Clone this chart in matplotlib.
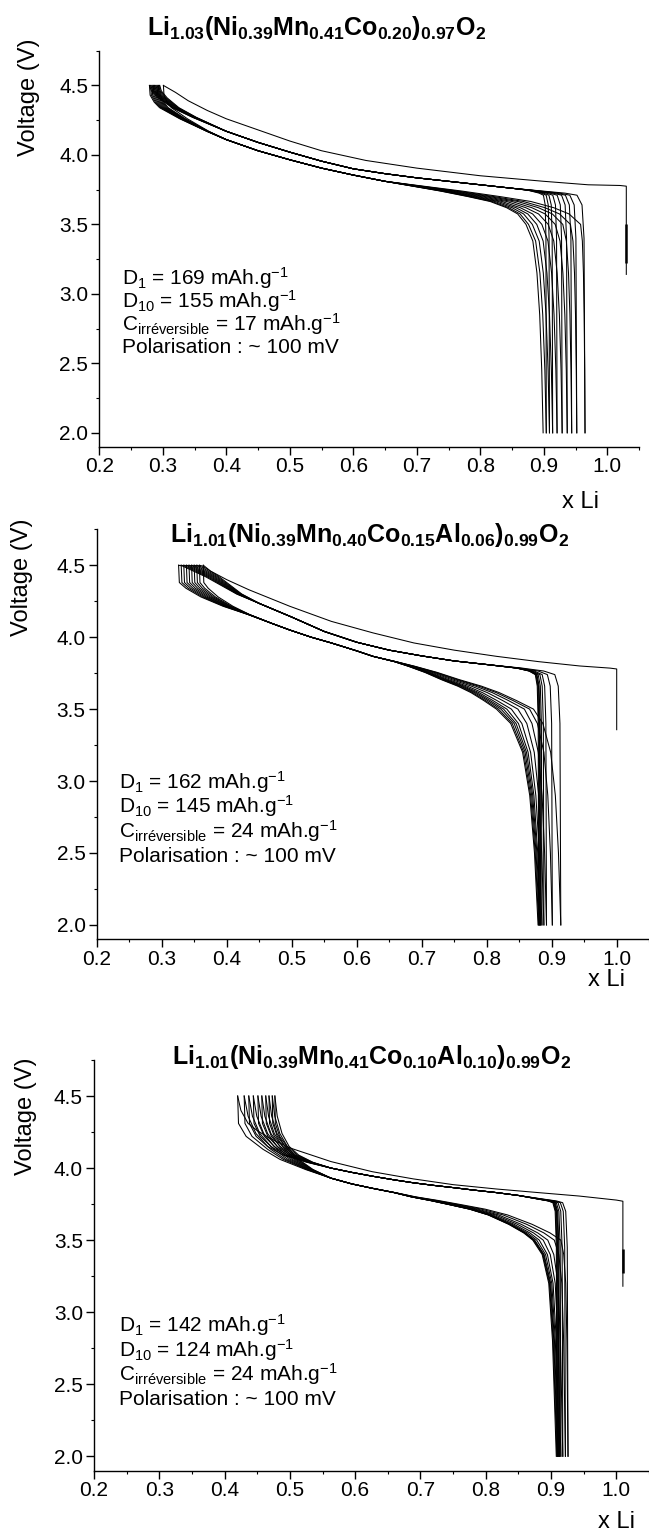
import numpy as np
import matplotlib.pyplot as plt
from matplotlib.ticker import MultipleLocator

plt.rcParams['font.family'] = ['Liberation Sans', 'DejaVu Sans']
plt.rcParams['mathtext.fontset'] = 'custom'
plt.rcParams['mathtext.rm'] = 'Liberation Sans'
plt.rcParams['mathtext.it'] = 'Liberation Sans:italic'
plt.rcParams['mathtext.bf'] = 'Liberation Sans:bold'

W, H = 649, 1533
LW = 0.75

# ---------------------------------------------------------------- panel 1 data
p1_title = r'$\mathbf{Li_{1.03}(Ni_{0.39}Mn_{0.41}Co_{0.20})_{0.97}O_{2}}$'
p1_first_x = [1.03, 1.03, 1.02, 0.97, 0.90, 0.80, 0.70, 0.62, 0.55, 0.50, 0.45, 0.40, 0.37, 0.34, 0.32, 0.301]
p1_first_v = [3.14, 3.775, 3.78, 3.785, 3.81, 3.85, 3.905, 3.96, 4.03, 4.10, 4.18, 4.26, 4.32, 4.39, 4.45, 4.50]
p1_rest_v = [3.50, 3.22]
p1_chg_x = [0.930, 0.929, 0.927, 0.922, 0.91, 0.88, 0.85, 0.80, 0.75, 0.70, 0.65, 0.60, 0.55, 0.50,
            0.45, 0.40, 0.35, 0.32, 0.30, 0.29, 0.287]
p1_chg_v = [2.00, 3.40, 3.64, 3.71, 3.725, 3.745, 3.76, 3.785, 3.81, 3.835, 3.865, 3.90, 3.955, 4.02,
            4.09, 4.17, 4.27, 4.34, 4.41, 4.46, 4.50]
p1_dis_x = [0.285, 0.286, 0.292, 0.30, 0.33, 0.37, 0.40, 0.45, 0.50, 0.55, 0.60, 0.65, 0.70, 0.75,
            0.80, 0.84, 0.87, 0.89, 0.905, 0.915, 0.921, 0.925, 0.928, 0.93]
p1_dis_v = [4.50, 4.43, 4.38, 4.34, 4.26, 4.17, 4.11, 4.03, 3.965, 3.905, 3.855, 3.81, 3.775, 3.74,
            3.70, 3.665, 3.62, 3.575, 3.50, 3.38, 3.15, 2.85, 2.45, 2.00]
p1_dis_knee = 0.905
p1_tops = [0.301, 0.279, 0.281, 0.283, 0.285, 0.287, 0.289, 0.291, 0.293, 0.295]
p1_knees = [0.958, 0.942, 0.930, 0.918, 0.907, 0.897, 0.889, 0.882, 0.876, 0.872]
p1_ends = [0.965, 0.952, 0.944, 0.937, 0.929, 0.921, 0.914, 0.909, 0.904, 0.899]
p1_notes = ['D$_1$ = 169 mAh.g$^{-1}$', 'D$_{10}$ = 155 mAh.g$^{-1}$',
            'C$_{\\rm irréversible}$ = 17 mAh.g$^{-1}$', 'Polarisation : ~ 100 mV']

# ---------------------------------------------------------------- panel 2 data
p2_title = r'$\mathbf{Li_{1.01}(Ni_{0.39}Mn_{0.40}Co_{0.15}Al_{0.06})_{0.99}O_{2}}$'
p2_first_x = [1.0, 1.0, 0.99, 0.943, 0.88, 0.815, 0.75, 0.688, 0.625, 0.561, 0.497, 0.434, 0.40, 0.375, 0.364]
p2_first_v = [3.357, 3.779, 3.785, 3.80, 3.83, 3.867, 3.91, 3.96, 4.03, 4.11, 4.215, 4.33, 4.40, 4.46, 4.50]
p2_rest_v = []
p2_chg_x = [0.895, 0.894, 0.892, 0.888, 0.875, 0.85, 0.80, 0.75, 0.70, 0.65, 0.60, 0.55, 0.50,
            0.45, 0.42, 0.40, 0.38, 0.36, 0.35, 0.345]
p2_chg_v = [2.00, 3.40, 3.66, 3.74, 3.765, 3.785, 3.81, 3.835, 3.87, 3.91, 3.965, 4.04, 4.14,
            4.235, 4.30, 4.36, 4.42, 4.47, 4.495, 4.50]
p2_dis_x = [0.34, 0.341, 0.35, 0.37, 0.40, 0.434, 0.47, 0.497, 0.53, 0.561, 0.60, 0.625, 0.66, 0.688,
            0.72, 0.752, 0.784, 0.81, 0.835, 0.86, 0.872, 0.882, 0.888, 0.892, 0.895]
p2_dis_v = [4.50, 4.38, 4.34, 4.28, 4.215, 4.157, 4.095, 4.05, 4.00, 3.96, 3.905, 3.867, 3.83, 3.797,
            3.755, 3.705, 3.66, 3.615, 3.56, 3.50, 3.40, 3.20, 2.90, 2.50, 2.00]
p2_dis_knee = 0.86
p2_tops = [0.364, 0.326, 0.330, 0.334, 0.338, 0.342, 0.346, 0.350, 0.354, 0.358]
p2_knees = [0.872, 0.866, 0.858, 0.848, 0.838, 0.831, 0.826, 0.822, 0.818, 0.815]
p2_ends = [0.914, 0.901, 0.892, 0.888, 0.885, 0.883, 0.882, 0.881, 0.880, 0.879]
p2_notes = ['D$_1$ = 162 mAh.g$^{-1}$', 'D$_{10}$ = 145 mAh.g$^{-1}$',
            'C$_{\\rm irréversible}$ = 24 mAh.g$^{-1}$', 'Polarisation : ~ 100 mV']

# ---------------------------------------------------------------- panel 3 data
p3_title = r'$\mathbf{Li_{1.01}(Ni_{0.39}Mn_{0.41}Co_{0.10}Al_{0.10})_{0.99}O_{2}}$'
p3_first_x = [1.01, 1.01, 1.0, 0.943, 0.88, 0.816, 0.75, 0.689, 0.626, 0.563, 0.50, 0.468, 0.45, 0.436, 0.425, 0.42]
p3_first_v = [3.18, 3.77, 3.778, 3.806, 3.83, 3.855, 3.885, 3.925, 3.975, 4.045, 4.14, 4.21, 4.26, 4.31, 4.40, 4.50]
p3_rest_v = [3.435, 3.27]
p3_chg_x = [0.915, 0.914, 0.912, 0.908, 0.90, 0.88, 0.85, 0.816, 0.78, 0.753, 0.72, 0.689, 0.66, 0.626,
            0.595, 0.563, 0.53, 0.50, 0.48, 0.465, 0.455, 0.45]
p3_chg_v = [2.00, 3.45, 3.70, 3.76, 3.772, 3.787, 3.81, 3.83, 3.848, 3.863, 3.88, 3.898, 3.918, 3.944,
            3.97, 4.00, 4.04, 4.09, 4.15, 4.24, 4.36, 4.50]
p3_dis_x = [0.45, 0.451, 0.46, 0.48, 0.50, 0.53, 0.563, 0.595, 0.626, 0.66, 0.689, 0.72, 0.753, 0.785,
            0.816, 0.85, 0.875, 0.89, 0.90, 0.907, 0.911, 0.913, 0.915]
p3_dis_v = [4.50, 4.31, 4.22, 4.13, 4.06, 3.99, 3.93, 3.89, 3.86, 3.83, 3.80, 3.775, 3.745, 3.715,
            3.675, 3.61, 3.55, 3.50, 3.40, 3.20, 2.80, 2.40, 2.00]
p3_dis_knee = 0.89
p3_tops = [0.420, 0.430, 0.437, 0.444, 0.451, 0.457, 0.463, 0.468, 0.473, 0.477]
p3_knees = [0.915, 0.905, 0.895, 0.888, 0.882, 0.878, 0.875, 0.874, 0.873, 0.872]
p3_ends = [0.926, 0.922, 0.918, 0.915, 0.913, 0.912, 0.911, 0.910, 0.909, 0.908]
p3_notes = ['D$_1$ = 142 mAh.g$^{-1}$', 'D$_{10}$ = 124 mAh.g$^{-1}$',
            'C$_{\\rm irréversible}$ = 24 mAh.g$^{-1}$', 'Polarisation : ~ 100 mV']


def rect(l, r, t, b):
    return [l / W, 1 - b / H, (r - l) / W, (b - t) / H]


def draw_panel(ax, first_x, first_v, rest_v, chg_x, chg_v, dis_x, dis_v, dis_knee,
               tops, knees, ends, notes, note_x, note_y, note_dy):
    ax.plot(first_x, first_v, color='k', lw=LW)
    if rest_v:
        ax.plot([first_x[0]] * 2, rest_v, color='k', lw=1.8, solid_capstyle='butt')
    cx, dx = np.array(chg_x), np.array(dis_x)
    c_lo, c_hi = cx.min(), cx.max()
    d_lo, d_hi = dx.min(), dx.max()
    for i in range(len(tops)):
        # discharge: the read curve, moved onto this cycle's start / knee / end
        src = [d_lo, d_lo + 0.1, 0.65, dis_knee, d_hi]
        dst = [tops[i], d_lo + 0.1, 0.65, knees[i], ends[i]]
        ax.plot(np.interp(dx, src, dst), dis_v, color='k', lw=LW)
        if i + 1 < len(tops):
            src = [c_lo, c_lo + 0.1, c_hi - 0.06, c_hi]
            dst = [tops[i + 1], c_lo + 0.1, c_hi - 0.06, ends[i]]
            ax.plot(np.interp(cx, src, dst), chg_v, color='k', lw=LW)

    for k, s in enumerate(notes):
        ax.text(note_x, note_y - k * note_dy, s, fontsize=15, va='baseline', ha='left')

    ax.set_xlim(0.2, 1.05)
    ax.set_ylim(1.9, 4.75)
    ax.xaxis.set_major_locator(MultipleLocator(0.1))
    ax.xaxis.set_minor_locator(MultipleLocator(0.05))
    ax.yaxis.set_major_locator(MultipleLocator(0.5))
    ax.yaxis.set_minor_locator(MultipleLocator(0.25))
    ax.spines['top'].set_visible(False)
    ax.spines['right'].set_visible(False)
    for sp in ['left', 'bottom']:
        ax.spines[sp].set_linewidth(1.0)
    ax.tick_params(which='major', direction='out', length=5.5, width=1.0, labelsize=15)
    ax.tick_params(which='minor', direction='out', length=2.5, width=0.8)
    ax.tick_params(axis='x', pad=2)
    ax.tick_params(axis='y', pad=2.5)
    ax.set_facecolor('none')


fig = plt.figure(figsize=(W / 100, H / 100), dpi=100)

ax1 = fig.add_axes(rect(99.3, 639.0, 50.7, 446.7))
draw_panel(ax1, p1_first_x, p1_first_v, p1_rest_v, p1_chg_x, p1_chg_v, p1_dis_x, p1_dis_v,
           p1_dis_knee, p1_tops, p1_knees, p1_ends, p1_notes, 0.235, 3.066, 0.165)

ax2 = fig.add_axes(rect(96.7, 649.2, 529.3, 939.3))
draw_panel(ax2, p2_first_x, p2_first_v, p2_rest_v, p2_chg_x, p2_chg_v, p2_dis_x, p2_dis_v,
           p2_dis_knee, p2_tops, p2_knees, p2_ends, p2_notes, 0.234, 2.946, 0.170)

ax3 = fig.add_axes(rect(94.0, 649.0, 1060.0, 1470.7))
draw_panel(ax3, p3_first_x, p3_first_v, p3_rest_v, p3_chg_x, p3_chg_v, p3_dis_x, p3_dis_v,
           p3_dis_knee, p3_tops, p3_knees, p3_ends, p3_notes, 0.238, 2.862, 0.169)

# titles, axis labels (placed in figure pixels)
for s, (x, y) in [(p1_title, (316.5, 28)), (p2_title, (370, 535)), (p3_title, (372, 1057))]:
    fig.text(x / W, 1 - y / H, s, fontsize=18, ha='center', va='center')
for x, y in [(29, 97), (22, 577), (26, 1116)]:
    fig.text(x / W, 1 - y / H, 'Voltage (V)', fontsize=17, rotation=90, ha='center', va='center')
for x, y in [(581, 502), (606, 980), (617, 1522)]:
    fig.text(x / W, 1 - y / H, 'x Li', fontsize=17, ha='center', va='center')

fig.savefig('out.png', dpi=100)
